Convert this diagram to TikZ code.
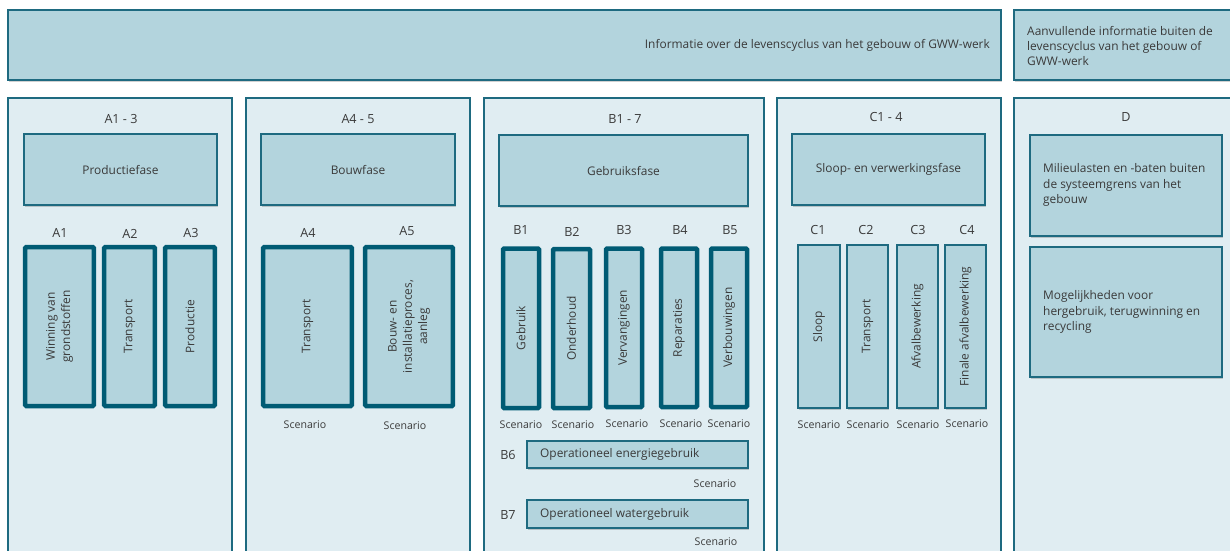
\documentclass[tikz,border=0pt]{standalone}
\usepackage{fontspec}
\setmainfont{Open Sans}
\usetikzlibrary{fit,shadows}
\definecolor{colbg}{HTML}{E0EDF2}
\definecolor{boxfill}{HTML}{B3D4DD}
\definecolor{edgec}{HTML}{1E6A80}
\definecolor{thickc}{HTML}{005B74}
\definecolor{txt}{HTML}{3A3A3A}
\tikzset{
  shad/.style={drop shadow={shadow xshift=1pt, shadow yshift=-1.8pt, fill=black, opacity=0.18}},
  col/.style={draw=edgec, fill=colbg, line width=1.2pt, inner sep=0pt},
  topbox/.style={draw=edgec, fill=boxfill, line width=1.4pt, inner sep=0pt, shad},
  phase/.style={draw=edgec, fill=boxfill, line width=1.2pt, inner sep=0pt, shad},
  thickbox/.style={draw=thickc, fill=boxfill, line width=4.5pt, inner sep=0pt, rounded corners=1pt, shad},
  thinbox/.style={draw=edgec, fill=boxfill, line width=1.2pt, inner sep=0pt, shad},
  lbl/.style={text=txt, font=\fontsize{11.9}{15.3}\selectfont, inner sep=0pt},
  vlbl/.style={lbl, rotate=90, align=center},
  scen/.style={text=txt, font=\fontsize{10.6}{12}\selectfont, inner sep=0pt},
  head/.style={text=txt, font=\fontsize{12.6}{15}\selectfont, inner sep=0pt},
}
\begin{document}
\begin{tikzpicture}[x=1pt,y=-1pt]
\useasboundingbox (0,0) rectangle (1230,550);
\clip (0,0) rectangle (1230,550);
\fill[white] (0,0) rectangle (1230,550);

% top header boxes
\node[topbox, fit={(8,10) (1001,80)}] (info) {};
\node[lbl, anchor=east] (infot) at (990,45) {Informatie over de levenscyclus van het gebouw of GWW-werk};
\node[topbox, fit={(1014,10) (1240,80)}] (extra) {};
\node[lbl, anchor=west, align=left] (extrat) at (1027,46) {Aanvullende informatie buiten de\\levenscyclus van het gebouw of\\GWW-werk};

% columns
\node[col, fit={(8,98) (232,570)}] (colA) {};
\node[col, fit={(246,98) (470,570)}] (colAB) {};
\node[col, fit={(484,98) (764,570)}] (colB) {};
\node[col, fit={(777,98) (1001,570)}] (colC) {};
\node[col, fit={(1014,98) (1240,570)}] (colD) {};

\node[head] (hA) at (121,119) {A1 - 3};
\node[head] (hAB) at (358,119) {A4 - 5};
\node[head] (hB) at (625,119) {B1 - 7};
\node[head] (hC) at (886,117) {C1 - 4};
\node[head] (hD) at (1126,117) {D};

% phase boxes
\node[phase, fit={(24,134) (217,205)}] (pA) {};
\node[lbl] at (pA.center) {Productiefase};
\node[phase, fit={(261,134) (455,205)}] (pAB) {};
\node[lbl] at (pAB.center) {Bouwfase};
\node[phase, fit={(499,135) (748,206)}] (pB) {};
\node[lbl] at (pB.center) {Gebruiksfase};
\node[phase, fit={(792,134) (985,205)}] (pC) {};
\node[lbl] at (pC.center) {Sloop- en verwerkingsfase};

% D boxes
\node[phase, fit={(1030,135) (1222,236)}] (d1) {};
\node[lbl, anchor=west, align=left] (d1t) at (1043,185) {Milieulasten en -baten buiten\\de systeemgrens van het\\gebouw};
\node[phase, fit={(1030,247) (1222,377)}] (d2) {};
\node[lbl, anchor=west, align=left] (d2t) at (1043,312) {Mogelijkheden voor\\hergebruik, terugwinning en\\recycling};

% A modules
\node[head] at (60,233) {A1};
\node[head] at (130,234) {A2};
\node[head] at (191,233) {A3};
\node[head] at (308,233) {A4};
\node[head] at (407,231) {A5};
\node[thickbox, fit={(25.2,247.2) (93.8,406)}] (a1) {};
\node[vlbl] at (a1.center) {Winning van\\grondstoffen};
\node[thickbox, fit={(104.2,247.2) (154.8,406)}] (a2) {};
\node[vlbl] at (a2.center) {Transport};
\node[thickbox, fit={(165.2,247.2) (214.8,406)}] (a3) {};
\node[vlbl] at (a3.center) {Productie};
\node[thickbox, fit={(263.2,247.2) (351.8,406)}] (a4) {};
\node[vlbl] at (a4.center) {Transport};
\node[thickbox, fit={(365.2,247.2) (452.8,406)}] (a5) {};
\node[vlbl] at (a5.center) {Bouw- en\\installatieproces,\\aanleg};
\node[scen] at (305,425) {Scenario};
\node[scen] at (405,426) {Scenario};

% B modules
\node[head] at (521,230) {B1};
\node[head] at (572,232) {B2};
\node[head] at (624,230) {B3};
\node[head] at (680,230) {B4};
\node[head] at (730,230) {B5};
\node[thickbox, fit={(503,248.5) (539,408)}] (b1) {};
\node[vlbl] at (b1.center) {Gebruik};
\node[thickbox, fit={(553,249) (590,408)}] (b2) {};
\node[vlbl] at (b2.center) {Onderhoud};
\node[thickbox, fit={(606,248.5) (642,407)}] (b3) {};
\node[vlbl] at (b3.center) {Vervangingen};
\node[thickbox, fit={(661,248.5) (697,407)}] (b4) {};
\node[vlbl] at (b4.center) {Reparaties};
\node[thickbox, fit={(711,248.5) (747,407)}] (b5) {};
\node[vlbl] at (b5.center) {Verbouwingen};
\node[scen] at (521,425) {Scenario};
\node[scen] at (573,425) {Scenario};
\node[scen] at (627,424) {Scenario};
\node[scen] at (681,424) {Scenario};
\node[scen] at (729,424) {Scenario};

\node[head] at (508,455) {B6};
\node[thinbox, fit={(527,441) (748,468)}] (b6) {};
\node[lbl, anchor=west] at (540,454) {Operationeel energiegebruik};
\node[scen] at (715,484) {Scenario};
\node[head] at (508,515) {B7};
\node[thinbox, fit={(527,500) (748,528)}] (b7) {};
\node[lbl, anchor=west] at (540,514) {Operationeel watergebruik};
\node[scen] at (716,542) {Scenario};

% C modules
\node[head] at (818,230) {C1};
\node[head] at (866,230) {C2};
\node[head] at (918,230) {C3};
\node[head] at (967,230) {C4};
\node[thinbox, fit={(798,245) (840,408)}] (c1) {};
\node[vlbl] at (c1.center) {Sloop};
\node[thinbox, fit={(847,245) (888,408)}] (c2) {};
\node[vlbl] at (c2.center) {Transport};
\node[thinbox, fit={(897,245) (938,408)}] (c3) {};
\node[vlbl] at (c3.center) {Afvalbewerking};
\node[thinbox, fit={(945,245) (986,408)}] (c4) {};
\node[vlbl] at (c4.center) {Finale afvalbewerking};
\node[scen] at (819,425) {Scenario};
\node[scen] at (868,425) {Scenario};
\node[scen] at (918,425) {Scenario};
\node[scen] at (967,424) {Scenario};
\end{tikzpicture}
\end{document}
